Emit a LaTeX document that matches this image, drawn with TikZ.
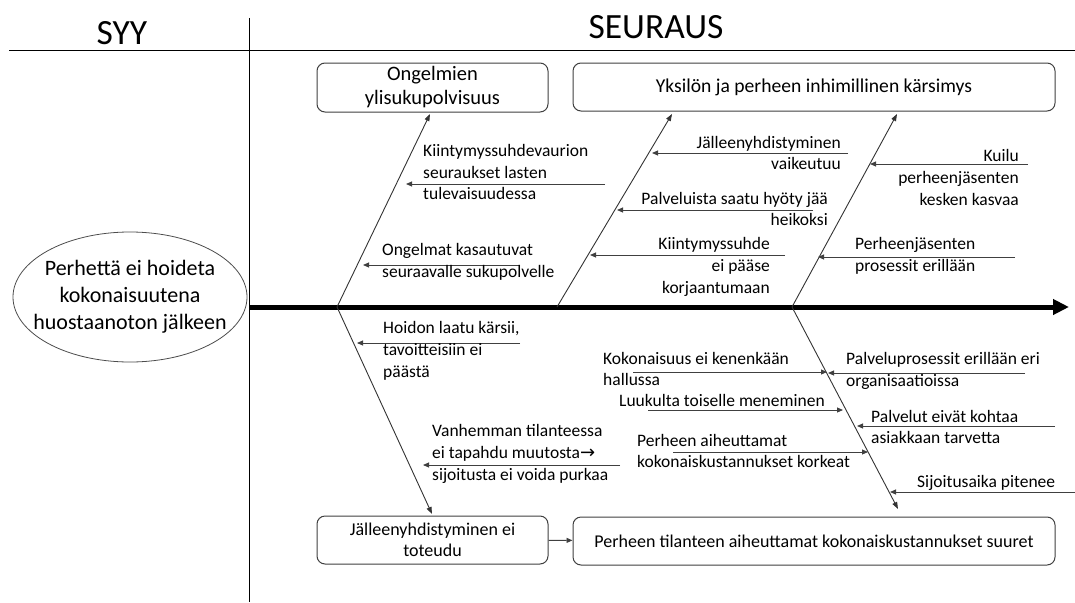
\documentclass[tikz,border=0pt]{standalone}
\usepackage{fontspec}
\setmainfont{Carlito}
\newfontfamily\arrowfont{DejaVu Sans}
\usetikzlibrary{arrows.meta,shapes.geometric}

\begin{document}
\begin{tikzpicture}[x=1pt,y=-1pt,
  title/.style={inner sep=0pt, font=\fontsize{35.5}{40}\selectfont},
  lbl/.style={inner sep=0pt, font=\fontsize{17.5}{21.8}\selectfont},
  effect/.style={draw=black!75, line width=1pt, rounded corners=8pt, fill=white,
    inner sep=0pt, align=center, font=\fontsize{18}{21.5}\selectfont},
  bone/.style={draw=black!80, line width=0.9pt, -{Triangle[length=7pt,width=5pt]}},
  sub/.style={draw=black!75, line width=0.9pt, -{Triangle[length=6pt,width=5pt]}},
  spine/.style={line width=5pt, -{Triangle[length=16pt,width=15pt]}}]
\useasboundingbox (0,0) rectangle (1075,602);

% header and column divider
\draw[line width=1pt] (9,51) -- (1075,51);
\draw[line width=1pt] (249,18) -- (249,602);
\node[title] (syy) at (122,33) {SYY};
\node[title] (seuraus) at (656,27) {SEURAUS};

% cause: outline and its text
\node[ellipse, draw=black!70, line width=0.8pt, minimum width=234, minimum height=130,
  inner sep=0pt] (cause) at (130,297) {};
\node[inner sep=0pt, align=center, font=\fontsize{22}{27}\selectfont]
  (causetext) at (cause.center) {Perhettä ei hoideta\\kokonaisuutena\\huostaanoton jälkeen};

% effect boxes
\node[effect, minimum width=231, minimum height=49, font=\fontsize{20.5}{24}\selectfont]
  (e1) at (432.5,87.5) {Ongelmien\\ylisukupolvisuus};
\node[effect, minimum width=482, minimum height=48, font=\fontsize{19.6}{24}\selectfont]
  (e2) at (814,87) {Yksilön ja perheen inhimillinen kärsimys};
\node[effect, minimum width=231, minimum height=48] (e3) at (432.5,540)
  {Jälleenyhdistyminen ei\\toteudu};
\node[effect, minimum width=482, minimum height=48] (e4) at (814,541)
  {Perheen tilanteen aiheuttamat kokonaiskustannukset suuret};
\draw[sub] (e3) -- (e4);

% spine
\coordinate (s0) at (250,307);
\coordinate (s1) at (1069,307);
\draw[spine] (s0) -- (s1);

% bones
\coordinate (b1a) at (337,307); \coordinate (b1b) at (430,114);
\coordinate (b2a) at (557,307); \coordinate (b2b) at (672,114);
\coordinate (b3a) at (792,307); \coordinate (b3b) at (897,114);
\coordinate (b4a) at (337,307); \coordinate (b4b) at (432,514);
\coordinate (b5a) at (792,307); \coordinate (b5b) at (898,509);
\draw[bone] (b1a) -- (b1b);
\draw[bone] (b2a) -- (b2b);
\draw[bone] (b3a) -- (b3b);
\draw[bone] (b4a) -- (b4b);
\draw[bone] (b5a) -- (b5b);

% sub-causes: start and tip of each small arrow
\coordinate (a1s) at (605,184);  \coordinate (a1t) at (406,184);
\coordinate (a2s) at (520,265);  \coordinate (a2t) at (363,265);
\coordinate (a3s) at (848,153);  \coordinate (a3t) at (652,153);
\coordinate (a4s) at (813,210);  \coordinate (a4t) at (617,210);
\coordinate (a5s) at (785,255);  \coordinate (a5t) at (590,255);
\coordinate (a6s) at (1028,164); \coordinate (a6t) at (870,164);
\coordinate (a7s) at (1015,257); \coordinate (a7t) at (818,257);
\coordinate (a8s) at (520,343);  \coordinate (a8t) at (357,343);
\coordinate (a9s) at (620,465);  \coordinate (a9t) at (423,465);
\coordinate (a10s) at (633,372); \coordinate (a10t) at (827,372);
\coordinate (a11s) at (1025,373);\coordinate (a11t) at (828,373);
\coordinate (a12s) at (648,410); \coordinate (a12t) at (843,410);
\coordinate (a13s) at (1055,426);\coordinate (a13t) at (857,426);
\coordinate (a14s) at (673,452); \coordinate (a14t) at (868,452);
\coordinate (a15s) at (1075,492);\coordinate (a15t) at (890,492);
\foreach \i in {1,...,15} \draw[sub] (a\i s) -- (a\i t);

% labels
\node[lbl, anchor=west, align=left] (l1) at (423,172)
  {Kiintymyssuhdevaurion\\seuraukset lasten\\tulevaisuudessa};
\node[lbl, anchor=west, align=left] (l2) at (382,261.5)
  {Ongelmat kasautuvat\\seuraavalle sukupolvelle};
\node[lbl, anchor=east, align=right] (l3) at (841,153)
  {Jälleenyhdistyminen\\vaikeutuu};
\node[lbl, anchor=east, align=right] (l4) at (828,209)
  {Palveluista saatu hyöty jää\\heikoksi};
\node[lbl, anchor=east, align=right] (l5) at (770,267)
  {Kiintymyssuhde\\ei pääse\\korjaantumaan};
\node[lbl, anchor=east, align=right] (l6) at (1019,177.5)
  {Kuilu\\perheenjäsenten\\kesken kasvaa};
\node[lbl, anchor=west, align=left] (l7) at (855,256)
  {Perheenjäsenten\\prosessit erillään};
\node[lbl, anchor=west, align=left] (l8) at (383,351)
  {Hoidon laatu kärsii,\\tavoitteisiin ei\\päästä};
\node[lbl, anchor=west, align=left] (l9) at (432,454)
  {Vanhemman tilanteessa\\ei tapahdu muutosta{\arrowfont\fontsize{18}{20}\selectfont →}\\sijoitusta ei voida purkaa};
\node[lbl, anchor=west, align=left] (l10) at (603,369)
  {Kokonaisuus ei kenenkään\\hallussa};
\node[lbl, anchor=west, align=left] (l11) at (846,371)
  {Palveluprosessit erillään eri\\organisaatioissa};
\node[lbl, anchor=west, align=left] (l12) at (619,400)
  {Luukulta toiselle meneminen};
\node[lbl, anchor=west, align=left] (l13) at (871,427)
  {Palvelut eivät kohtaa\\asiakkaan tarvetta};
\node[lbl, anchor=west, align=left] (l14) at (637,451)
  {Perheen aiheuttamat\\kokonaiskustannukset korkeat};
\node[lbl, anchor=west, align=left] (l15) at (917,483)
  {Sijoitusaika pitenee};
\end{tikzpicture}
\end{document}
